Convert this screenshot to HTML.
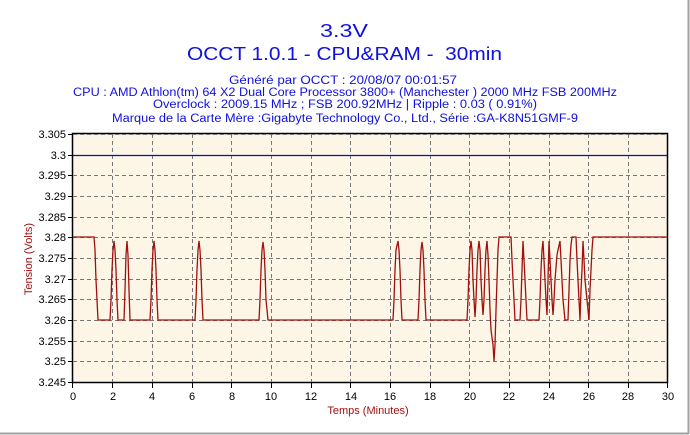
<!DOCTYPE html>
<html><head><meta charset="utf-8"><style>
body{margin:0;background:#fff;width:690px;height:435px;overflow:hidden}
svg{display:block}
</style></head><body>
<svg width="690" height="435" xmlns="http://www.w3.org/2000/svg" font-family="Liberation Sans, sans-serif">
<rect x="0" y="0" width="690" height="435" fill="#fff"/>
<line x1="688.5" y1="0" x2="688.5" y2="434" stroke="#a0a0a0" stroke-width="2"/>
<line x1="0" y1="433.5" x2="689" y2="433.5" stroke="#a0a0a0" stroke-width="2"/>
<g fill="#1010e0">
<text x="320" y="37" font-size="18" textLength="48" lengthAdjust="spacingAndGlyphs">3.3V</text>
<text x="187" y="60" font-size="18" textLength="315" lengthAdjust="spacingAndGlyphs" xml:space="preserve">OCCT 1.0.1 - CPU&amp;RAM -  30min</text>
<text x="229" y="84" font-size="11.5" textLength="228" lengthAdjust="spacingAndGlyphs">Généré par OCCT : 20/08/07 00:01:57</text>
<text x="73" y="96" font-size="11.5" textLength="544" lengthAdjust="spacingAndGlyphs">CPU : AMD Athlon(tm) 64 X2 Dual Core Processor 3800+ (Manchester ) 2000 MHz FSB 200MHz</text>
<text x="153" y="108" font-size="11.5" textLength="384" lengthAdjust="spacingAndGlyphs">Overclock : 2009.15 MHz ; FSB 200.92MHz | Ripple : 0.03 ( 0.91%)</text>
<text x="112" y="122" font-size="11.5" textLength="466" lengthAdjust="spacingAndGlyphs">Marque de la Carte Mère :Gigabyte Technology Co., Ltd., Série :GA-K8N51GMF-9</text>
</g>
<rect x="72.5" y="133.5" width="595" height="249" fill="#fdf6e6" stroke="#000" stroke-width="1.5"/>
<g stroke="#777" stroke-dasharray="4,3" stroke-width="1">
<path d="M73 175.5H667M73 196.5H667M73 217.5H667M73 237.5H667M73 258.5H667M73 279.5H667M73 299.5H667M73 320.5H667M73 341.5H667M73 361.5H667"/>
<path d="M112.5 134V382M152.5 134V382M192.5 134V382M231.5 134V382M271.5 134V382M311.5 134V382M350.5 134V382M390.5 134V382M430.5 134V382M469.5 134V382M509.5 134V382M549.5 134V382M588.5 134V382M628.5 134V382"/>
<path d="M73 134.5H667"/>
</g>
<line x1="73" y1="155.5" x2="667" y2="155.5" stroke="#0010d0" stroke-width="1.2"/>
<polyline fill="none" stroke="#a01010" stroke-width="1.3" points="73,237 94,237 95,250 96,280 97,300 98,320 110,320 111,300 112,270 113,250 114,241 115,250 116,270 117,300 118,320 124,320 125,290 126,255 127,241 128,255 129,290 130,320 150,320 151,300 152,270 153,250 154,241 155,250 156,270 157,300 158,320 195,320 196,300 197,270 198,250 199,241 200,250 201,270 202,300 203,320 259,320 260,300 261,270 262,250 263,242 264,250 265,270 266,300 268,320 393,320 394,300 395,270 396,250 398,241 399,250 400,270 401,300 402,320 418,320 419,300 420,270 421,250 422,242 423,250 424,270 425,300 426,320 467,320 468,300 469,270 470,250 471,241 472,250 473,280 474,300 475,317 476,300 477,270 478,250 479,241 480,250 481,280 482,300 483,315 484,300 485,270 486,250 487,241 488,255 489,280 490,310 491,330 493,345 494,361 495,345 496,310 497,280 498,250 499,237 511,237 512,260 513,280 514,300 515,320 520,320 521,300 522,270 523,241 524,260 525,280 526,300 527,320 539,320 540,300 541,270 542,250 543,241 544,260 545,280 546,300 547,315 548,280 549,241 550,260 551,280 552,300 553,315 554,300 555,280 557,255 558,250 560,241 561,260 562,280 563,300 565,320 568,320 569,290 570,260 571,245 572,237 576,237 577,260 578,280 579,300 580,320 581,290 582,270 583,241 584,260 585,280 586,290 587,300 589,320 590,290 591,270 592,250 593,237 667,237"/>
<g stroke="#000" stroke-width="1">
<path d="M68 134.5H72M68 155.5H72M68 175.5H72M68 196.5H72M68 217.5H72M68 237.5H72M68 258.5H72M68 279.5H72M68 299.5H72M68 320.5H72M68 341.5H72M68 361.5H72M68 382.5H72"/>
<path d="M72.5 383V388M112.5 383V388M152.5 383V388M192.5 383V388M231.5 383V388M271.5 383V388M311.5 383V388M350.5 383V388M390.5 383V388M430.5 383V388M469.5 383V388M509.5 383V388M549.5 383V388M588.5 383V388M628.5 383V388M667.5 383V388"/>
</g>
<g font-size="11" fill="#000" text-anchor="end">
<text x="66" y="138">3.305</text><text x="66" y="159">3.3</text><text x="66" y="179">3.295</text><text x="66" y="200">3.29</text><text x="66" y="221">3.285</text><text x="66" y="241">3.28</text><text x="66" y="262">3.275</text><text x="66" y="283">3.27</text><text x="66" y="303">3.265</text><text x="66" y="324">3.26</text><text x="66" y="345">3.255</text><text x="66" y="365">3.25</text><text x="66" y="386">3.245</text>
</g>
<g font-size="11" fill="#000" text-anchor="middle">
<text x="73" y="400">0</text><text x="113" y="400">2</text><text x="152" y="400">4</text><text x="192" y="400">6</text><text x="232" y="400">8</text><text x="271" y="400">10</text><text x="311" y="400">12</text><text x="351" y="400">14</text><text x="390" y="400">16</text><text x="430" y="400">18</text><text x="470" y="400">20</text><text x="509" y="400">22</text><text x="549" y="400">24</text><text x="589" y="400">26</text><text x="628" y="400">28</text><text x="668" y="400">30</text>
</g>
<text x="368" y="414" font-size="11" fill="#a01010" text-anchor="middle">Temps (Minutes)</text>
<text transform="translate(32,259) rotate(-90)" font-size="11" fill="#a01010" text-anchor="middle">Tension (Volts)</text>
</svg>
</body></html>
